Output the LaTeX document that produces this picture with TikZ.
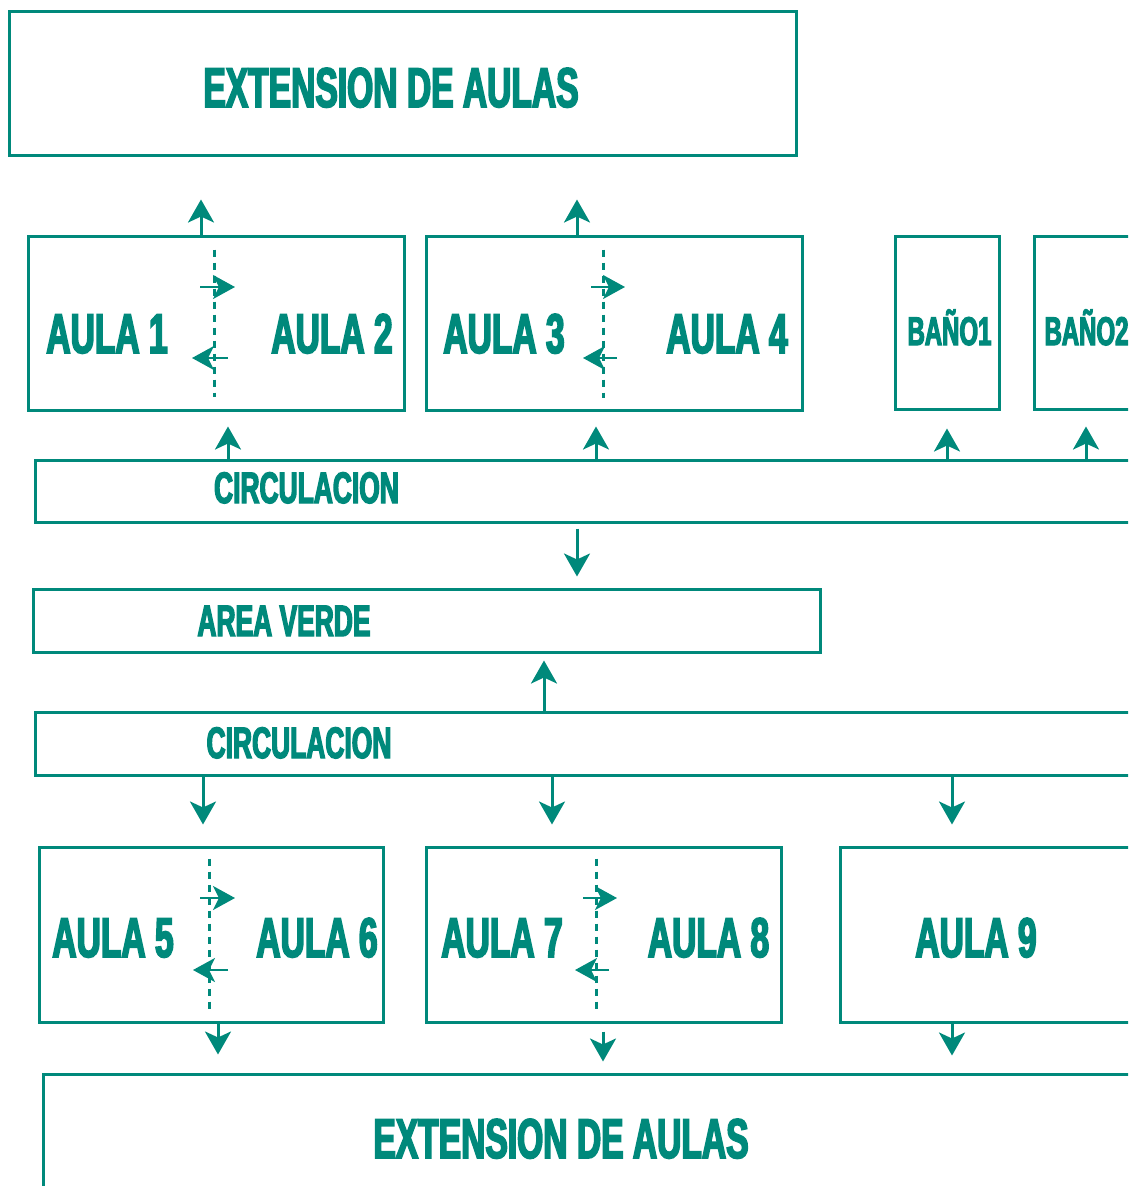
\documentclass[tikz,border=0pt]{standalone}
\usepackage{fontspec}
\newfontfamily\labelfont{Liberation Sans}[FakeStretch=0.6,FakeBold=3]
\usetikzlibrary{arrows.meta}
\definecolor{aulateal}{RGB}{0,137,123}

\begin{document}
\begin{tikzpicture}[x=1pt,y=-1pt,
  box/.style={draw=aulateal,line width=3pt,inner sep=0pt},
  big/.style={text=aulateal,anchor=base,inner sep=0pt,
    font=\labelfont\bfseries\fontsize{56}{60}\selectfont},
  mid/.style={big,font=\labelfont\bfseries\fontsize{44}{48}\selectfont},
  small/.style={big,font=\labelfont\bfseries\fontsize{40}{44}\selectfont},
  edge/.style={draw=aulateal,line width=3pt,
    -{Stealth[length=23pt,width=26pt,inset=6pt]}},
  crossing/.style={draw=aulateal,line width=2.6pt,
    -{Stealth[length=22pt,width=24pt,inset=6pt]}},
  divider/.style={draw=aulateal,line width=3pt,dash pattern=on 7pt off 6pt}
]
  \useasboundingbox (0,0) rectangle (1128,1186);
  \clip (0,0) rectangle (1128,1186);

  % boxes
  \node[box,minimum width=787pt,minimum height=144pt] (extTop) at (402.5,83) {};
  \node[box,minimum width=376pt,minimum height=174pt] (aulas12) at (216,323) {};
  \node[box,minimum width=376pt,minimum height=174pt] (aulas34) at (614,323) {};
  \node[box,minimum width=104pt,minimum height=173pt] (bano1) at (947,322.5) {};
  \node[box,minimum width=104pt,minimum height=173pt] (bano2) at (1086,322.5) {};
  \node[box,minimum width=1125pt,minimum height=62pt] (circA) at (597.5,491) {};
  \node[box,minimum width=787pt,minimum height=63pt] (verde) at (426.5,620.5) {};
  \node[box,minimum width=1125pt,minimum height=63pt] (circB) at (597.5,743.5) {};
  \node[box,minimum width=344pt,minimum height=175pt] (aulas56) at (211,934.5) {};
  \node[box,minimum width=355pt,minimum height=175pt] (aulas78) at (603.5,934.5) {};
  \node[box,minimum width=340pt,minimum height=175pt] (aula9) at (1010,934.5) {};
  \node[box,minimum width=1137pt,minimum height=176pt] (extBot) at (611.5,1162) {};

  % labels
  \node[big] (extTopText) at (391,107) {EXTENSION DE AULAS};
  \node[big] (aula1) at (107,353) {AULA 1};
  \node[big] (aula2) at (332,353) {AULA 2};
  \node[big] (aula3) at (504,353) {AULA 3};
  \node[big] (aula4) at (727,353) {AULA 4};
  \node[small] (bano1Text) at (949.5,345) {BAÑO1};
  \node[small] (bano2Text) at (1086.5,345) {BAÑO2};
  \node[mid] (circAText) at (306.5,503) {CIRCULACION};
  \node[mid] (verdeText) at (284,636) {AREA VERDE};
  \node[mid] (circBText) at (299,758) {CIRCULACION};
  \node[big] (aula5) at (113,957) {AULA 5};
  \node[big] (aula6) at (317,957) {AULA 6};
  \node[big] (aula7) at (502,957) {AULA 7};
  \node[big] (aula8) at (708.5,957) {AULA 8};
  \node[big] (aula9Text) at (976,957) {AULA 9};
  \node[big] (extBotText) at (561,1158) {EXTENSION DE AULAS};

  % connectors
  \draw[edge,shorten >=43pt] (aulas12.north -| 201,0) -- (extTop.south -| 201,0);
  \draw[edge,shorten >=43pt] (aulas34.north -| 577,0) -- (extTop.south -| 577,0);
  \draw[edge,shorten >=15pt] (circA.north -| 228,0) -- (aulas12.south -| 228,0);
  \draw[edge,shorten >=15pt] (circA.north -| 596,0) -- (aulas34.south -| 596,0);
  \draw[edge,shorten >=18pt] (circA.north -| bano1) -- (bano1.south);
  \draw[edge,shorten >=16pt] (circA.north -| bano2) -- (bano2.south);
  \draw[edge,shorten <=5pt,shorten >=11pt] (circA.south -| 577,0) -- (verde.north -| 577,0);
  \draw[edge,shorten >=7pt] (circB.north -| 544,0) -- (verde.south -| 544,0);
  \draw[edge,shorten >=21pt] (circB.south -| 203,0) -- (aulas56.north -| 203,0);
  \draw[edge,shorten >=21pt] (circB.south -| 552,0) -- (aulas78.north -| 552,0);
  \draw[edge,shorten >=21pt] (circB.south -| 952,0) -- (aula9.north -| 952,0);
  \draw[edge,shorten >=18pt] (aulas56.south -| 218,0) -- (extBot.north -| 218,0);
  \draw[edge,shorten <=8pt,shorten >=11pt] (aulas78.south -| 603,0) -- (extBot.north -| 603,0);
  \draw[edge,shorten >=17pt] (aula9.south -| 952,0) -- (extBot.north -| 952,0);

  % dividers between paired classrooms
  \draw[divider,shorten <=15pt,shorten >=15pt] (aulas12.north -| 214,0) -- (aulas12.south -| 214,0);
  \draw[divider,shorten <=15pt,shorten >=14pt] (aulas34.north -| 603,0) -- (aulas34.south -| 603,0);
  \draw[divider,shorten <=13pt,shorten >=15pt] (aulas56.north -| 209,0) -- (aulas56.south -| 209,0);
  \draw[divider,shorten <=13pt,shorten >=15pt] (aulas78.north -| 596,0) -- (aulas78.south -| 596,0);
  \draw[crossing] (200,287) -- (235,287);
  \draw[crossing] (228,358) -- (192,358);
  \draw[crossing] (591,287) -- (625,287);
  \draw[crossing] (617,358) -- (583,358);
  \draw[crossing] (200,898) -- (235,898);
  \draw[crossing] (228,970) -- (193,970);
  \draw[crossing] (583,898) -- (617,898);
  \draw[crossing] (609,970) -- (575,970);
\end{tikzpicture}
\end{document}
